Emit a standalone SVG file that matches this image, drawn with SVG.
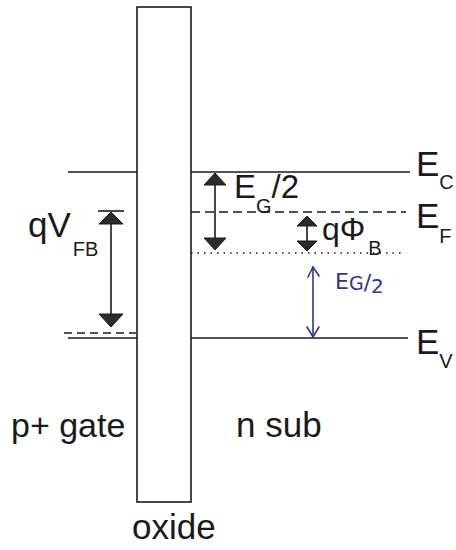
<svg xmlns="http://www.w3.org/2000/svg" width="456" height="550" viewBox="0 0 456 550">
<style>
.t{font-family:"Liberation Sans",Arial,sans-serif;fill:#1a1a1a}
.ln{stroke:#1a1a1a;stroke-width:1.6;fill:none}
.tri{fill:#2b2b2b;stroke:#1a1a1a;stroke-width:1}
.blue{stroke:#2d3590;stroke-width:1.6;fill:none;stroke-linecap:round}
</style>
<rect width="456" height="550" fill="#fff"/>
<g id="oxide">
<rect x="137" y="7" width="54" height="495" class="ln"/>
<text class="t" x="132" y="539" font-size="35">oxide</text>
</g>
<g id="levels">
<line x1="68" y1="172" x2="137" y2="172" class="ln"/>
<line x1="191" y1="172" x2="410" y2="172" class="ln"/>
<line x1="191" y1="212" x2="406" y2="212" class="ln" stroke-dasharray="9,5"/>
<line x1="191" y1="253" x2="405" y2="253" class="ln" stroke-dasharray="1.5,5"/>
<line x1="191" y1="338" x2="408" y2="338" class="ln"/>
<line x1="64" y1="333" x2="136" y2="333" class="ln" stroke-dasharray="8,5"/>
<line x1="68" y1="338" x2="137" y2="338" class="ln"/>
</g>
<g id="labels">
<text class="t" x="416" y="176" font-size="35">E<tspan font-size="20" dy="13">C</tspan></text>
<text class="t" x="416" y="228" font-size="35">E<tspan font-size="20" dy="15">F</tspan></text>
<text class="t" x="416" y="354" font-size="35">E<tspan font-size="20" dy="14">V</tspan></text>
<text class="t" x="11" y="437" font-size="34">p+ gate</text>
<text class="t" x="236" y="437" font-size="35">n sub</text>
<text class="t" x="28" y="237" font-size="35">qV<tspan font-size="20" dy="19" dx="2">FB</tspan></text>
<text class="t" x="234" y="198" font-size="33">E<tspan font-size="20" dy="15">G</tspan><tspan font-size="33" dy="-15">/2</tspan></text>
<text class="t" x="322" y="240" font-size="32">qΦ<tspan font-size="20" dy="15" dx="3">B</tspan></text>
</g>
<g id="connectors">
<line x1="111" y1="218" x2="111" y2="320" class="ln"/>
<line x1="98" y1="211" x2="124" y2="211" class="ln"/>
<polygon class="tri" points="111,212 99,224 123,224"/>
<polygon class="tri" points="111,327 99,314 123,314"/>
<line x1="215" y1="180" x2="215" y2="242" class="ln"/>
<polygon class="tri" points="215,173 204,185 226,185"/>
<polygon class="tri" points="215,250 204,238 226,238"/>
<line x1="307" y1="222" x2="307" y2="245" class="ln"/>
<polygon class="tri" points="307,216 297,226 317,226"/>
<polygon class="tri" points="307,251 297,241 317,241"/>
<line x1="313" y1="267" x2="313" y2="337" class="blue"/>
<polyline points="308,277 313,267 319,276" class="blue"/>
<polyline points="307,327 313,337 319,327" class="blue"/>
</g>
<g id="handwritten">
<text x="335" y="289" font-family="'DejaVu Sans',sans-serif" font-size="22" fill="#2d3590">E<tspan font-size="19" dy="1">G</tspan>/<tspan font-size="20" dy="3">2</tspan></text>
</g>
</svg>
